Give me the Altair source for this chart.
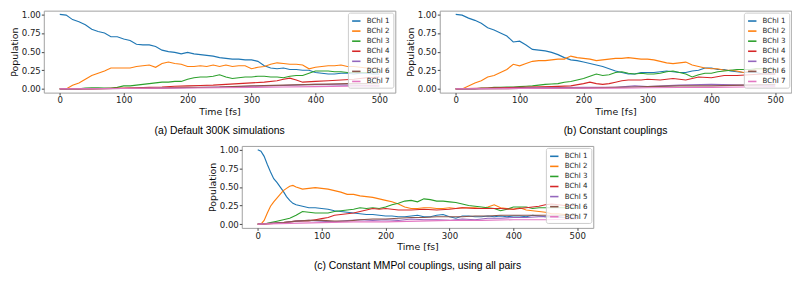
import altair as alt
import pandas as pd

SERIES = ["BChl 1", "BChl 2", "BChl 3", "BChl 4", "BChl 5", "BChl 6", "BChl 7"]
COLORS = ["#1f77b4", "#ff7f0e", "#2ca02c", "#d62728", "#9467bd", "#8c564b", "#e377c2"]
X_TICKS = [0, 100, 200, 300, 400, 500]
Y_TICKS = [0.0, 0.25, 0.5, 0.75, 1.0]
CAPTIONS = ["(a) Default 300K simulations", "(b) Constant couplings",
            "(c) Constant MMPol couplings, using all pairs"]

T10 = list(range(0, 501, 10))
T_SPARSE = [0, 100, 150, 200, 250, 300, 350, 400, 450, 500]
T_SPARSE_B = [0, 100, 200, 250, 280, 300, 350, 400, 450, 500]

# ---------- panel (a) ----------
a_b1 = [1.00, 0.99, 0.93, 0.90, 0.86, 0.80, 0.77, 0.75, 0.70, 0.70,
        0.67, 0.65, 0.60, 0.59, 0.59, 0.57, 0.52, 0.50, 0.49, 0.47,
        0.49, 0.47, 0.46, 0.45, 0.44, 0.42, 0.41, 0.40, 0.40, 0.39,
        0.39, 0.37, 0.31, 0.28, 0.27, 0.28, 0.26, 0.26, 0.25, 0.25,
        0.22, 0.21, 0.20, 0.20, 0.21, 0.21, 0.20, 0.21, 0.21, 0.20, 0.20]
a_b2 = [0.00, 0.00, 0.05, 0.08, 0.13, 0.18, 0.21, 0.24, 0.28, 0.28,
        0.28, 0.28, 0.30, 0.31, 0.32, 0.29, 0.34, 0.36, 0.34, 0.33,
        0.30, 0.30, 0.31, 0.30, 0.32, 0.30, 0.32, 0.30, 0.31, 0.31,
        0.27, 0.29, 0.30, 0.33, 0.35, 0.34, 0.33, 0.33, 0.32, 0.27,
        0.29, 0.30, 0.31, 0.31, 0.32, 0.30, 0.30, 0.29, 0.28, 0.28, 0.28]
a_b3 = [0.00, 0.00, 0.00, 0.00, 0.01, 0.015, 0.015, 0.012, 0.01, 0.02,
        0.04, 0.04, 0.05, 0.06, 0.07, 0.08, 0.09, 0.09, 0.10, 0.10,
        0.13, 0.15, 0.16, 0.16, 0.17, 0.19, 0.16, 0.14, 0.15, 0.16,
        0.16, 0.17, 0.17, 0.16, 0.16, 0.15, 0.17, 0.18, 0.18, 0.21,
        0.24, 0.24, 0.24, 0.23, 0.23, 0.22, 0.22, 0.22, 0.22, 0.23, 0.23]
a_t4 = [0, 50, 100, 120, 140, 160, 180, 200, 220, 240, 260, 280, 300,
        320, 340, 350, 360, 370, 380, 400, 420, 440, 460, 480, 500]
a_b4 = [0.00, 0.00, 0.01, 0.015, 0.02, 0.025, 0.035, 0.04, 0.045, 0.05, 0.06, 0.07, 0.08,
        0.09, 0.11, 0.13, 0.145, 0.12, 0.09, 0.10, 0.11, 0.12, 0.13, 0.15, 0.16]
a_b5 = [0.00, 0.005, 0.01, 0.015, 0.025, 0.035, 0.045, 0.06, 0.05, 0.04]
a_b6 = [0.00, 0.005, 0.01, 0.02, 0.025, 0.04, 0.05, 0.06, 0.07, 0.07]
a_b7 = [0.00, 0.005, 0.01, 0.012, 0.015, 0.02, 0.025, 0.03, 0.035, 0.04]

# ---------- panel (b) ----------
b_b1 = [1.00, 0.99, 0.95, 0.92, 0.88, 0.82, 0.79, 0.75, 0.71, 0.63,
        0.64, 0.59, 0.53, 0.52, 0.51, 0.49, 0.46, 0.42, 0.39, 0.38,
        0.36, 0.34, 0.32, 0.30, 0.27, 0.24, 0.22, 0.20, 0.20, 0.22,
        0.22, 0.22, 0.23, 0.24, 0.23, 0.22, 0.22, 0.24, 0.25, 0.28,
        0.28, 0.26, 0.26, 0.24, 0.23, 0.22, 0.22, 0.22, 0.20, 0.20, 0.20]
b_b2 = [0.00, 0.00, 0.04, 0.08, 0.11, 0.16, 0.18, 0.22, 0.26, 0.33,
        0.31, 0.34, 0.37, 0.38, 0.38, 0.39, 0.40, 0.40, 0.44, 0.42,
        0.41, 0.40, 0.38, 0.39, 0.40, 0.41, 0.41, 0.42, 0.41, 0.40,
        0.40, 0.39, 0.37, 0.35, 0.34, 0.35, 0.36, 0.32, 0.30, 0.28,
        0.27, 0.27, 0.25, 0.25, 0.24, 0.22, 0.24, 0.27, 0.27, 0.26, 0.26]
b_b3 = [0.00, 0.00, 0.00, 0.00, 0.01, 0.01, 0.02, 0.02, 0.025, 0.025,
        0.03, 0.035, 0.04, 0.05, 0.06, 0.065, 0.07, 0.09, 0.10, 0.12,
        0.14, 0.17, 0.20, 0.18, 0.19, 0.22, 0.23, 0.21, 0.20, 0.21,
        0.20, 0.20, 0.21, 0.23, 0.24, 0.22, 0.20, 0.16, 0.19, 0.21,
        0.21, 0.23, 0.24, 0.25, 0.26, 0.26, 0.26, 0.27, 0.27, 0.27, 0.27]
b_t4 = [0, 100, 150, 180, 200, 210, 220, 230, 240, 250, 260, 270, 280,
        290, 300, 320, 340, 350, 360, 380, 400, 420, 440, 460, 480, 500]
b_b4 = [0.00, 0.02, 0.03, 0.04, 0.07, 0.09, 0.07, 0.06, 0.07, 0.09, 0.11, 0.12, 0.12,
        0.12, 0.13, 0.12, 0.14, 0.13, 0.12, 0.16, 0.15, 0.18, 0.18, 0.19, 0.20, 0.20]
b_b5 = [0.00, 0.01, 0.02, 0.02, 0.04, 0.03, 0.05, 0.06, 0.05, 0.05]
b_b6 = [0.00, 0.005, 0.01, 0.02, 0.025, 0.03, 0.04, 0.04, 0.05, 0.06]
b_b7 = [0.00, 0.005, 0.01, 0.01, 0.012, 0.015, 0.018, 0.02, 0.025, 0.03]

# ---------- panel (c) ----------
c_t12 = [0, 5, 10, 15, 20, 25, 30, 35, 40, 45, 50, 55, 60] + list(range(70, 501, 10))
c_b1 = [1.00, 0.98, 0.91, 0.80, 0.70, 0.61, 0.56, 0.50, 0.44, 0.37, 0.32, 0.28, 0.26,
        0.24, 0.22, 0.22, 0.21, 0.20, 0.18, 0.17, 0.16, 0.15, 0.14,
        0.13, 0.13, 0.12, 0.11, 0.11, 0.10, 0.10, 0.11, 0.12, 0.10,
        0.10, 0.12, 0.13, 0.10, 0.08, 0.11, 0.11, 0.10, 0.10, 0.11,
        0.10, 0.11, 0.10, 0.11, 0.11, 0.10, 0.12, 0.11, 0.10, 0.10,
        0.10, 0.09, 0.09, 0.09]
c_b2 = [0.00, 0.00, 0.05, 0.15, 0.24, 0.30, 0.35, 0.40, 0.45, 0.48, 0.51, 0.52, 0.50,
        0.47, 0.48, 0.49, 0.48, 0.47, 0.45, 0.43, 0.40, 0.40, 0.38,
        0.37, 0.36, 0.34, 0.32, 0.30, 0.27, 0.23, 0.21, 0.21, 0.22,
        0.22, 0.21, 0.21, 0.22, 0.21, 0.22, 0.22, 0.22, 0.21, 0.23,
        0.26, 0.22, 0.21, 0.20, 0.22, 0.19, 0.18, 0.17, 0.16, 0.14,
        0.14, 0.13, 0.12, 0.12]
c_b3 = [0.00, 0.00, 0.02, 0.04, 0.06, 0.08, 0.12, 0.17, 0.16, 0.15,
        0.15, 0.15, 0.17, 0.18, 0.19, 0.20, 0.22, 0.21, 0.22, 0.21,
        0.23, 0.26, 0.28, 0.31, 0.32, 0.30, 0.34, 0.33, 0.31, 0.31,
        0.30, 0.29, 0.27, 0.25, 0.24, 0.23, 0.22, 0.21, 0.18, 0.20,
        0.23, 0.23, 0.23, 0.21, 0.22, 0.22, 0.22, 0.22, 0.22, 0.22, 0.22]
c_t4 = [0, 20, 40, 50, 60, 70, 80, 90, 100, 110, 120, 130, 140, 150, 160, 170, 180, 190,
        200, 220, 240, 260, 280, 300, 320, 340, 360, 380, 400, 420, 440, 450, 460, 470, 480, 500]
c_b4 = [0.00, 0.005, 0.02, 0.03, 0.04, 0.045, 0.045, 0.06, 0.075, 0.09,
        0.12, 0.13, 0.14, 0.15, 0.17, 0.19, 0.21, 0.20, 0.21, 0.19,
        0.19, 0.20, 0.19, 0.20, 0.22, 0.21, 0.21, 0.21, 0.20, 0.22,
        0.24, 0.26, 0.27, 0.26, 0.25, 0.25]
c_t56 = [0, 40, 60, 80, 100, 120, 140, 160, 180, 200, 220, 240, 260, 280, 300,
         320, 340, 360, 380, 400, 420, 440, 460, 480, 500]
c_b5 = [0.00, 0.02, 0.04, 0.05, 0.04, 0.03, 0.05, 0.06, 0.05, 0.06, 0.05, 0.07, 0.06,
        0.06, 0.05, 0.07, 0.06, 0.08, 0.08, 0.09, 0.09, 0.10, 0.10, 0.09, 0.09]
c_b6 = [0.00, 0.02, 0.04, 0.05, 0.05, 0.04, 0.04, 0.06, 0.07, 0.07, 0.08, 0.09, 0.09,
        0.10, 0.10, 0.10, 0.11, 0.11, 0.12, 0.12, 0.12, 0.12, 0.12, 0.12, 0.12]
c_t7 = [0, 50, 100, 150, 200, 250, 300, 350, 400, 450, 500]
c_b7 = [0.00, 0.01, 0.02, 0.03, 0.03, 0.04, 0.05, 0.05, 0.06, 0.06, 0.07]


def long_df(parts):
    rows = []
    for name, ts, vs in parts:
        for t, v in zip(ts, vs):
            rows.append({"t": t, "p": v, "s": name})
    return pd.DataFrame(rows)


df_a = long_df([("BChl 1", T10, a_b1), ("BChl 2", T10, a_b2), ("BChl 3", T10, a_b3),
                ("BChl 4", a_t4, a_b4), ("BChl 5", T_SPARSE, a_b5),
                ("BChl 6", T_SPARSE, a_b6), ("BChl 7", T_SPARSE, a_b7)])
df_b = long_df([("BChl 1", T10, b_b1), ("BChl 2", T10, b_b2), ("BChl 3", T10, b_b3),
                ("BChl 4", b_t4, b_b4), ("BChl 5", T_SPARSE_B, b_b5),
                ("BChl 6", T_SPARSE_B, b_b6), ("BChl 7", T_SPARSE_B, b_b7)])
df_c = long_df([("BChl 1", c_t12, c_b1), ("BChl 2", c_t12, c_b2), ("BChl 3", T10, c_b3),
                ("BChl 4", c_t4, c_b4), ("BChl 5", c_t56, c_b5),
                ("BChl 6", c_t56, c_b6), ("BChl 7", c_t7, c_b7)])

W, H = 356, 83


def panel(df, caption):
    return alt.Chart(df).mark_line(strokeWidth=1.15, clip=True).encode(
        x=alt.X("t:Q", scale=alt.Scale(domain=[-25, 525], nice=False, zero=False),
                axis=alt.Axis(values=X_TICKS, format="d", title="Time [fs]")),
        y=alt.Y("p:Q", scale=alt.Scale(domain=[-0.05, 1.05], nice=False, zero=False),
                axis=alt.Axis(values=Y_TICKS, format=".2f", title="Population")),
        color=alt.Color("s:N", scale=alt.Scale(domain=SERIES, range=COLORS),
                        legend=alt.Legend(title=None, orient="top-right", offset=2)),
    ).properties(
        width=W, height=H,
        title=alt.TitleParams(caption, orient="bottom", anchor="middle", offset=10,
                              fontSize=10.5, font="Liberation Sans", fontWeight="normal",
                              color="#000000"),
    )


top = alt.hconcat(panel(df_a, CAPTIONS[0]), panel(df_b, CAPTIONS[1]), spacing=8
                  ).resolve_legend(color="independent")
chart = alt.vconcat(top, panel(df_c, CAPTIONS[2]), spacing=8, center=True
                    ).resolve_legend(color="independent").properties(
    padding=0
).configure_view(
    stroke="#a0a0a0", strokeWidth=1
).configure_axis(
    grid=False, domain=False,
    labelFont="DejaVu Sans", labelFontSize=8.7, labelColor="#222222",
    titleFont="DejaVu Sans", titleFontSize=9.5, titleFontWeight="normal", titleColor="#111111",
    tickSize=2.5, tickColor="#444444", labelPadding=1, titlePadding=2,
).configure_legend(
    symbolType="stroke", symbolSize=72, symbolStrokeWidth=1.6,
    labelFont="DejaVu Sans", labelFontSize=7.2, labelColor="#222222",
    rowPadding=1.2, padding=3, labelOffset=5,
    fillColor="rgba(255,255,255,0.8)", strokeColor="#cccccc", cornerRadius=2,
)

chart.save("out.html", embed_options={"renderer": "svg", "actions": False})
